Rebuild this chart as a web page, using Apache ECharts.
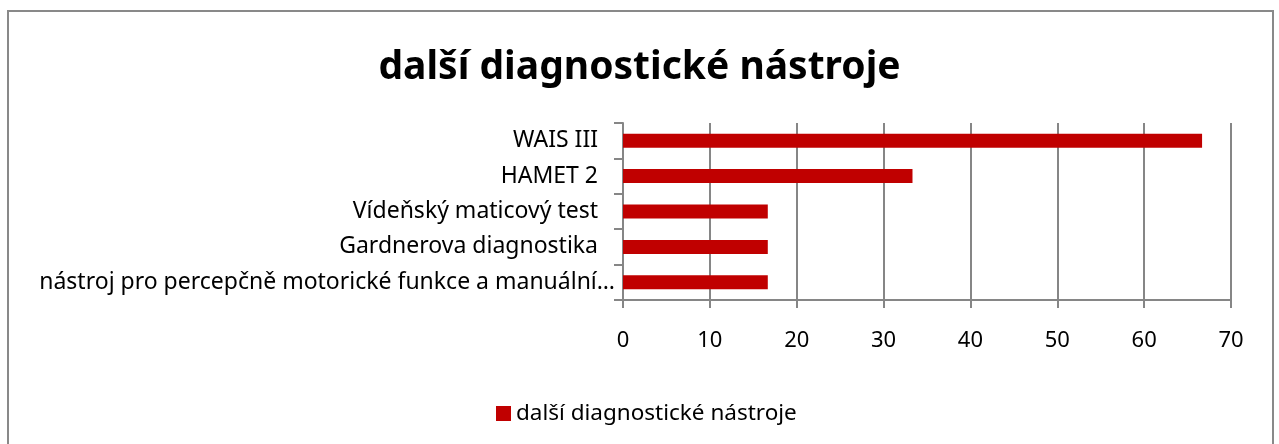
<!DOCTYPE html>
<html>
<head>
<meta charset="utf-8">
<script src="https://cdn.jsdelivr.net/npm/echarts@6/dist/echarts.min.js"></script>
<style>
  html, body { margin: 0; padding: 0; background: #fff; }
  #chart { width: 1279px; height: 444px; }
</style>
</head>
<body>
<div id="chart"></div>
<script>
const categories = [
  "WAIS III",
  "HAMET 2",
  "Vídeňský maticový test",
  "Gardnerova diagnostika",
  "nástroj pro percepčně motorické funkce a manuální…"
];
const values = [66.67, 33.33, 16.67, 16.67, 16.67];
const seriesName = "další diagnostické nástroje";

const font = "'Noto Sans', 'Open Sans', sans-serif";
const myChart = echarts.init(document.getElementById("chart"));
myChart.setOption({
  animation: false,
  graphic: [
    {
      type: "rect",
      shape: { x: 8, y: 11, width: 1265, height: 460 },
      style: { fill: "none", stroke: "#898989", lineWidth: 2 },
      silent: true
    }
  ],
  title: {
    text: "další diagnostické nástroje",
    left: "center",
    top: 43,
    textStyle: { fontFamily: font, fontSize: 39, fontWeight: "bold", color: "#000" }
  },
  legend: {
    data: [seriesName],
    top: 397,
    left: 491,
    icon: "rect",
    itemWidth: 15,
    itemHeight: 15,
    itemGap: 6,
    textStyle: { fontFamily: font, fontSize: 22.5, color: "#000" }
  },
  grid: { left: 623, right: 48, top: 123, bottom: 144, containLabel: false },
  xAxis: {
    type: "value",
    min: 0,
    max: 70,
    interval: 10,
    axisLine: { show: true, lineStyle: { color: "#868686", width: 2 } },
    axisTick: { show: true, length: 8, lineStyle: { color: "#868686", width: 2 } },
    splitLine: { show: true, lineStyle: { color: "#868686", width: 2 } },
    axisLabel: { fontFamily: font, fontSize: 22, color: "#000", margin: 30 }
  },
  yAxis: {
    type: "category",
    data: categories,
    inverse: true,
    axisLine: { show: true, lineStyle: { color: "#868686", width: 2 } },
    axisTick: { show: true, length: 9, lineStyle: { color: "#868686", width: 2 } },
    axisLabel: {
      fontFamily: font,
      fontSize: 23,
      color: "#000",
      margin: 8,
      // the long truncated label sits closer to the axis, like the original
      formatter: (v) => (v.endsWith("…") ? "{l|" + v + "}" : "{n|" + v + "}"),
      rich: {
        n: { fontFamily: font, fontSize: 23, color: "#000", padding: [0, 17, 0, 0] },
        l: { fontFamily: font, fontSize: 23, color: "#000" }
      }
    }
  },
  series: [
    {
      name: seriesName,
      type: "bar",
      data: values,
      barWidth: 14,
      itemStyle: { color: "#C00000" }
    }
  ]
});
</script>
</body>
</html>
